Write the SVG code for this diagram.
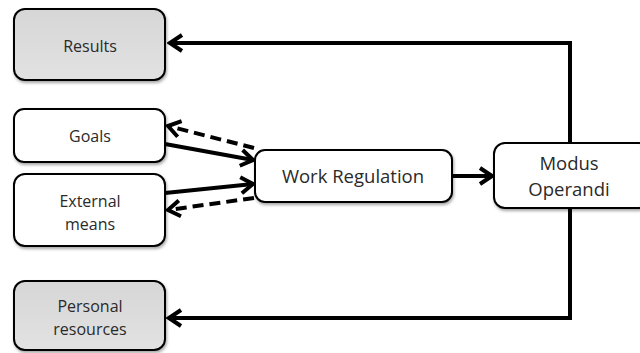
<svg xmlns="http://www.w3.org/2000/svg" width="640" height="353" viewBox="0 0 640 353">
<style>
.box{fill:#fff;stroke:#000;stroke-width:2;filter:url(#sh)}
.gray{fill:url(#g)}
.t{font-family:"Open Sans","Liberation Sans",sans-serif;font-size:16px;fill:#2a2a2a;text-anchor:middle}
.tl{font-size:18.5px}
.ln{fill:none;stroke:#000;stroke-width:4}
.dash{stroke-dasharray:11,6}
</style>
<defs>
<linearGradient id="g" x1="0" y1="0" x2="0" y2="1"><stop offset="0" stop-color="#d6d6d6"/><stop offset="1" stop-color="#e2e2e2"/></linearGradient>
<filter id="sh" x="-10%" y="-10%" width="125%" height="130%"><feDropShadow dx="1" dy="2" stdDeviation="1.5" flood-color="#000" flood-opacity="0.35"/></filter>
<marker id="ahl" markerWidth="20" markerHeight="20" refX="17" refY="10" orient="auto" markerUnits="userSpaceOnUse" viewBox="0 0 20 20"><path d="M5,2 L17,10 L5,18" fill="none" stroke="#000" stroke-width="4"/></marker>
</defs>
<g id="connectors">
<path class="ln" d="M570,143 V43 H170" marker-end="url(#ahl)"/>
<path class="ln" d="M570,208 V318 H169" marker-end="url(#ahl)"/>
<path class="ln" d="M452,176 H492" marker-end="url(#ahl)"/>
<path class="ln" d="M165,144 L253,160" marker-end="url(#ahl)"/>
<path class="ln dash" d="M254,148 L168,126" marker-end="url(#ahl)"/>
<path class="ln" d="M165,193 L253,184" marker-end="url(#ahl)"/>
<path class="ln dash" d="M254,198 L168,210" marker-end="url(#ahl)"/>
</g>
<g id="results"><rect class="box gray" x="14" y="9" width="151" height="71" rx="11"/><text class="t" x="90" y="52">Results</text></g>
<g id="goals"><rect class="box" x="14" y="109" width="151" height="53" rx="10"/><text class="t" x="90" y="142">Goals</text></g>
<g id="external"><rect class="box" x="14" y="174" width="151" height="72" rx="11"/><text class="t" x="90" y="207">External</text><text class="t" x="90" y="230">means</text></g>
<g id="personal"><rect class="box gray" x="14" y="281" width="151" height="69" rx="11"/><text class="t" x="90" y="312">Personal</text><text class="t" x="90" y="335">resources</text></g>
<g id="work"><rect class="box" x="255" y="150" width="197" height="52" rx="10"/><text class="t tl" x="353" y="183">Work Regulation</text></g>
<g id="modus"><rect class="box" x="494" y="143" width="156" height="65" rx="11"/><text class="t tl" x="569" y="170">Modus</text><text class="t tl" x="569" y="196">Operandi</text></g>
</svg>
